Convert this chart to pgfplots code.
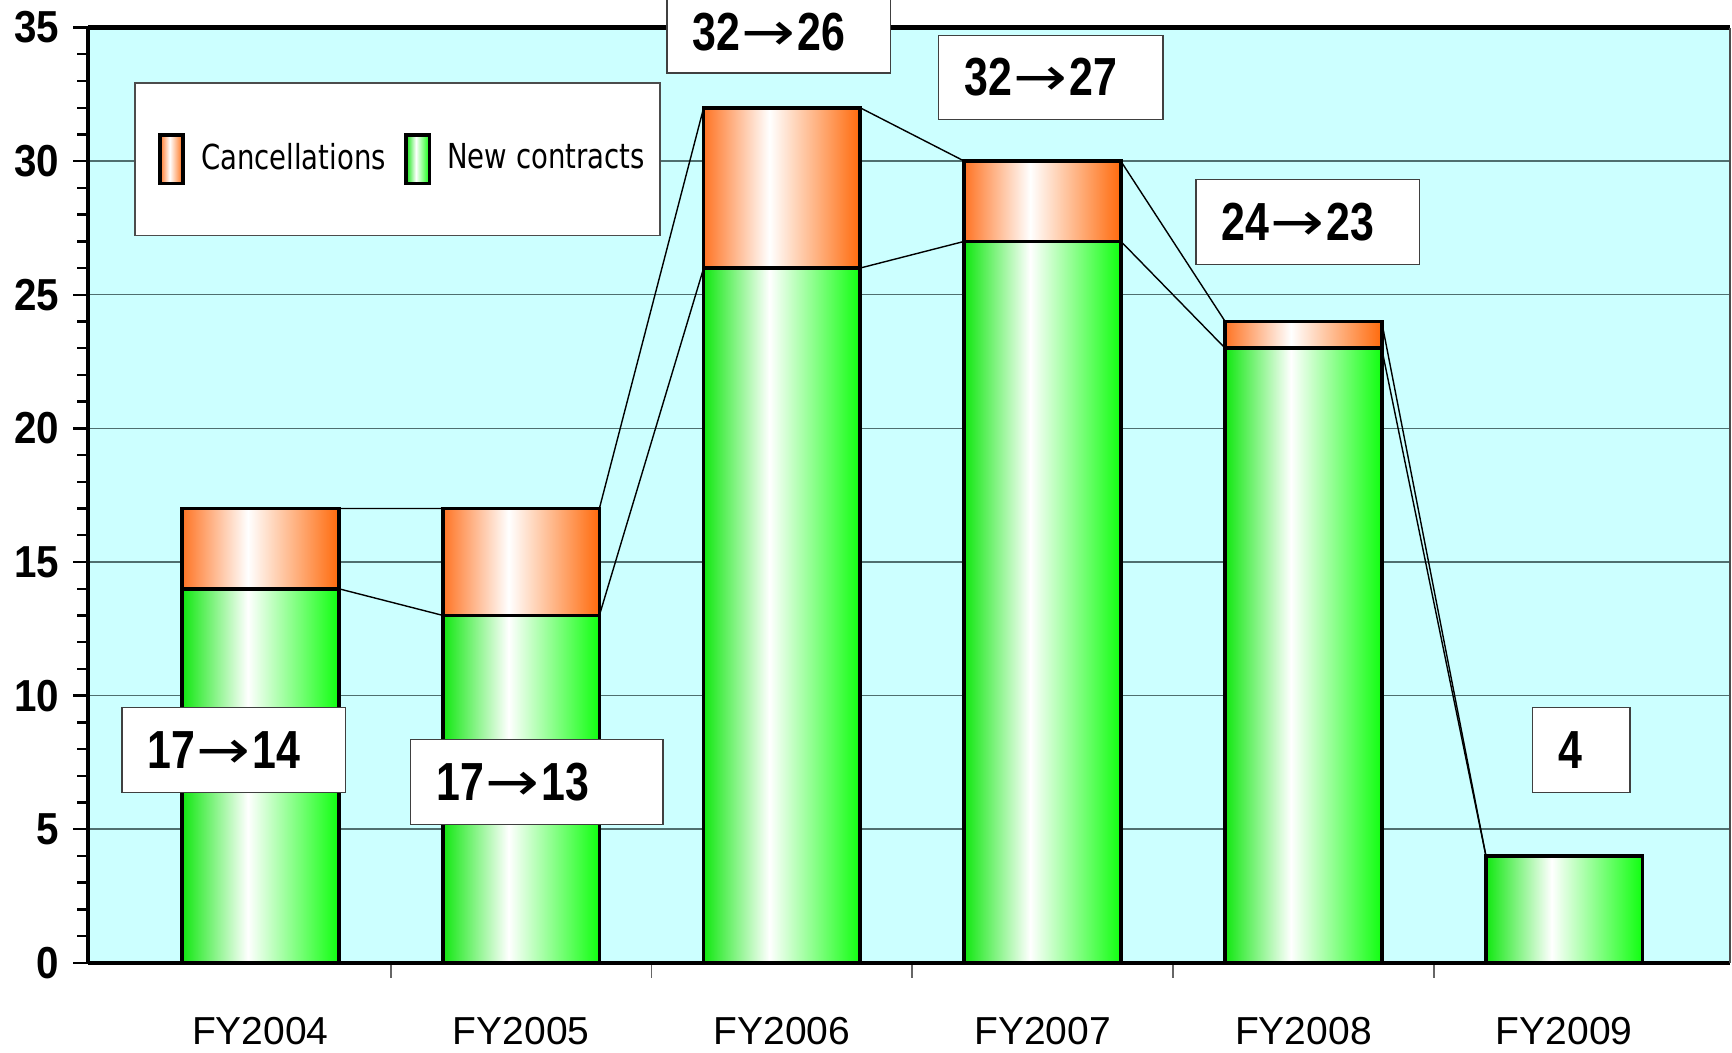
\documentclass[border=0pt]{standalone}
\usepackage{pgfplots}
\pgfplotsset{compat=1.18}
\usepackage{fontspec}
\setmainfont{Liberation Sans}
\newfontfamily\legfont[FakeStretch=0.8]{DejaVu Sans}
\newfontfamily\annfont[FakeStretch=0.8]{Liberation Sans}
\newfontfamily\arrfont[FakeStretch=1.2]{DejaVu Sans}
\newfontfamily\tickfont[FakeStretch=0.9]{Liberation Sans}
\definecolor{bgcyan}{HTML}{CCFFFF}
\definecolor{gedgeL}{HTML}{10E810}
\definecolor{gedgeR}{HTML}{10FF10}
\definecolor{oedgeL}{HTML}{FF7424}
\definecolor{oedgeR}{HTML}{FF6A0C}
\definecolor{gridc}{HTML}{4F6F6F}
\pgfdeclarehorizontalshading{gbar}{100bp}{color(0bp)=(gedgeL); color(25bp)=(gedgeL); color(46bp)=(white); color(75bp)=(gedgeR); color(100bp)=(gedgeR)}
\pgfdeclarehorizontalshading{obar}{100bp}{color(0bp)=(oedgeL); color(25bp)=(oedgeL); color(46bp)=(white); color(75bp)=(oedgeR); color(100bp)=(oedgeR)}
\newcommand\annot[6]{%
  \draw[fill=white, draw=black!75, line width=0.35pt] (axis cs:#1,#2) rectangle (axis cs:#3,#4);
  \node[anchor=west, inner sep=0pt, xshift=6.2pt, font=\annfont\bfseries\fontsize{13.4}{15}\selectfont] at (axis cs:#1,#5) {#6};
}
\newcommand\arr{{\arrfont\mdseries\kern0.3pt→\kern0.6pt}}
\newcommand\onebar[3]{%
  \addplot[ybar, bar width=0.601, bar shift=0pt, draw=black, line width=0.9pt, shade, shading=#1, forget plot]
    coordinates {(#2,#3)};
}
\begin{document}
\begin{tikzpicture}
\begin{axis}[
  scale only axis, width=410.4pt, height=233.75pt,
  xmin=-0.661, xmax=5.636, ymin=0, ymax=35,
  clip=false,
  axis x line*=bottom, axis y line*=left,
  axis line style={line width=1.1pt, black},
  axis background/.style={fill=bgcyan},
  ytick={0,5,...,35}, minor y tick num=4,
  tick align=outside,
  major tick length=3.75pt, minor tick length=2.75pt,
  ytick style={black, line width=0.6pt},
  minor tick style={black!70, line width=0.4pt},
  ymajorgrids, major grid style={gridc, line width=0.35pt},
  xtick={0.5,1.5,2.5,3.5,4.5}, xticklabels={},
  xtick style={black!60, line width=0.4pt},
  extra x ticks={0,1,2,3,4,5},
  extra x tick labels={FY2004,FY2005,FY2006,FY2007,FY2008,FY2009},
  extra x tick style={major tick length=0pt, xticklabel style={yshift=-10pt}},
  xticklabel style={font=\fontsize{9.75}{11}\selectfont},
  yticklabel style={font=\tickfont\bfseries\fontsize{11.2}{13}\selectfont},
  /pgf/number format/assume math mode=true,
  legend image code/.code={\path (-2.3pt,0pt); \draw[#1, line width=0.9pt] (0pt,-6.1pt) rectangle (5.8pt,6.1pt);},
  legend style={at={(0.028,0.9417)}, anchor=north west, draw=black!70, line width=0.4pt, fill=white,
    legend columns=2, inner xsep=3.8pt, inner ysep=12.5pt,
    nodes={inner sep=0pt},
    font=\legfont\fontsize{8.6}{10}\selectfont,
    /tikz/every odd column/.append style={column sep=4pt},
    /tikz/every even column/.append style={column sep=2.6pt}},
  legend cell align=left,
]
% totals (cancellations on top of new contracts)
\onebar{obar}{0}{17}
\onebar{obar}{1}{17}
\onebar{obar}{2}{32}
\onebar{obar}{3}{30}
\onebar{obar}{4}{24}
% new contracts
\onebar{gbar}{0}{14}
\onebar{gbar}{1}{13}
\onebar{gbar}{2}{26}
\onebar{gbar}{3}{27}
\onebar{gbar}{4}{23}
\onebar{gbar}{5}{4}
\addlegendimage{draw=black, shade, shading=obar}
\addlegendentry{Cancellations}
\addlegendimage{draw=black, shade, shading=gbar}
\addlegendentry{New contracts}
\addplot[black, line width=0.35pt, forget plot]
  coordinates {(0.3,17)(0.7,17)(1.3,17)(1.7,32)(2.3,32)(2.7,30)(3.3,30)(3.7,24)(4.3,24)(4.7,4)};
\addplot[black, line width=0.35pt, forget plot]
  coordinates {(0.3,14)(0.7,13)(1.3,13)(1.7,26)(2.3,26)(2.7,27)(3.3,27)(3.7,23)(4.3,23)(4.7,4)};
\draw[line width=1.1pt] (rel axis cs:0,1) -- (rel axis cs:1,1);
\draw[black!70, line width=0.4pt] (rel axis cs:1,0) -- (rel axis cs:1,1);
\annot{-0.530}{6.37}{0.327}{9.55}{7.96}{17\arr 14}
\annot{0.576}{5.18}{1.544}{8.36}{6.77}{17\arr 13}
\annot{1.560}{33.30}{2.416}{36.48}{34.85}{32\arr 26}
\annot{2.601}{31.56}{3.461}{34.70}{33.13}{32\arr 27}
\annot{3.588}{26.13}{4.445}{29.31}{27.72}{24\arr 23}
\annot{4.879}{6.37}{5.252}{9.55}{7.96}{4}
\end{axis}
\pgfresetboundingbox
\useasboundingbox ([shift={(-22pt,-22.4pt)}]current axis.south west) rectangle ([shift={(0.5pt,6.9pt)}]current axis.north east);
\end{tikzpicture}
\end{document}
